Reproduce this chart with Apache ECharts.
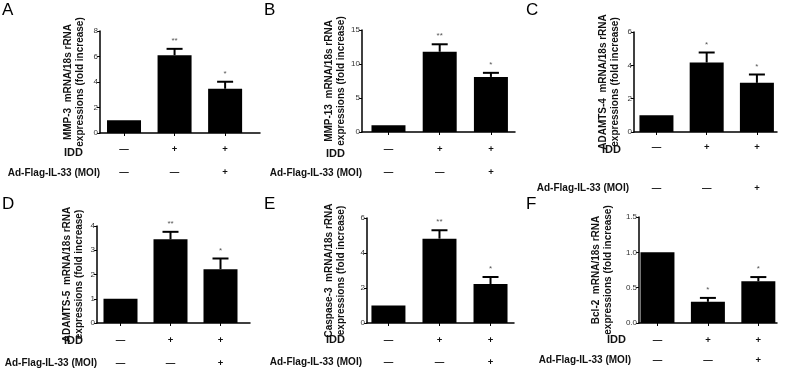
<!DOCTYPE html>
<html>
<head>
<meta charset="utf-8">
<script src="https://cdn.jsdelivr.net/npm/echarts@6/dist/echarts.min.js"></script>
<style>
  html, body { margin: 0; padding: 0; background: #fff; }
  #chart { width: 785px; height: 373px; }
</style>
</head>
<body>
<div id="chart"></div>
<script>
// treatment rows under each panel
const iddSigns = ['—', '+', '+'];
const adFlagSigns = ['—', '—', '+'];

// fold increase (mean) and upper error (SEM) per group
const mmp3Mean = [1, 6.1, 3.47];
const mmp3Err = [0, 0.5, 0.55];
const mmp3Stars = ['', '**', '*'];

const mmp13Mean = [1, 11.8, 8.1];
const mmp13Err = [0, 1.1, 0.6];
const mmp13Stars = ['', '**', '*'];

const adamts4Mean = [1, 4.17, 2.95];
const adamts4Err = [0, 0.6, 0.5];
const adamts4Stars = ['', '*', '*'];

const adamts5Mean = [1, 3.45, 2.22];
const adamts5Err = [0, 0.31, 0.44];
const adamts5Stars = ['', '**', '*'];

const casp3Mean = [1, 4.82, 2.23];
const casp3Err = [0, 0.48, 0.4];
const casp3Stars = ['', '**', '*'];

const bcl2Mean = [1, 0.3, 0.59];
const bcl2Err = [0, 0.055, 0.06];
const bcl2Stars = ['', '*', '*'];

const FONT = '"Liberation Sans", Arial, Helvetica, sans-serif';

// layout of each panel (pixels)
const panels = [
  { letter: 'A', gene: 'MMP-3', mean: mmp3Mean, err: mmp3Err, stars: mmp3Stars,
    grid: [100, 31, 160, 102], xMin: -0.475, xMax: 2.69, yMax: 8, yStep: 2, nameGap: 14,
    rows: [16, 39], letterAt: [2, 2], iddAt: [83, 153], adAt: [100, 173] },
  { letter: 'B', gene: 'MMP-13', mean: mmp13Mean, err: mmp13Err, stars: mmp13Stars,
    grid: [362, 30, 153, 102], xMin: -0.517, xMax: 2.47, yMax: 15, yStep: 5, nameGap: 13,
    rows: [17, 40], letterAt: [264, 2], iddAt: [345, 154], adAt: [362, 173] },
  { letter: 'C', gene: 'ADAMTS-4', mean: adamts4Mean, err: adamts4Err, stars: adamts4Stars,
    grid: [634, 32, 143, 100], xMin: -0.447, xMax: 2.4, yMax: 6, yStep: 2, nameGap: 13,
    rows: [15, 56], letterAt: [526, 2], iddAt: [621, 150], adAt: [629, 188] },
  { letter: 'D', gene: 'ADAMTS-5', mean: adamts5Mean, err: adamts5Err, stars: adamts5Stars,
    grid: [97, 226, 153, 97], xMin: -0.47, xMax: 2.59, yMax: 4, yStep: 1, nameGap: 12,
    rows: [17, 40], letterAt: [2, 196], iddAt: [83, 341], adAt: [97, 363] },
  { letter: 'E', gene: 'Caspase-3', mean: casp3Mean, err: casp3Err, stars: casp3Stars,
    grid: [367, 218, 147, 105], xMin: -0.42, xMax: 2.46, yMax: 6, yStep: 2, nameGap: 20,
    rows: [17, 39], letterAt: [264, 196], iddAt: [345, 340], adAt: [362, 362] },
  { letter: 'F', gene: 'Bcl-2', mean: bcl2Mean, err: bcl2Err, stars: bcl2Stars,
    grid: [639, 217, 138, 106], xMin: -0.366, xMax: 2.37, yMax: 1.5, yStep: 0.5, nameGap: 25,
    rows: [17, 37], letterAt: [526, 196], iddAt: [626, 340], adAt: [631, 360] },
];

const grid = [], xAxis = [], yAxis = [], series = [], graphic = [];

panels.forEach((p, k) => {
  const [left, top, width, height] = p.grid;
  grid.push({ left, top, width, height });

  const m = 6;
  const la = 2 * (p.rows[0] - m);
  const lb = 2 * (p.rows[1] - m - la);
  xAxis.push({
    type: 'value', gridIndex: k, min: p.xMin, max: p.xMax,
    splitLine: { show: false },
    axisLine: { show: true, onZero: false, lineStyle: { color: '#000', width: 1.5 } },
    axisTick: { show: true, length: 3, customValues: [0, 1, 2], lineStyle: { color: '#000', width: 1 } },
    axisLabel: {
      show: true, margin: m, customValues: [0, 1, 2],
      formatter: (v) => `{a|${iddSigns[v]}}\n{b|${adFlagSigns[v]}}`,
      rich: {
        a: { fontFamily: FONT, fontWeight: 'bold', fontSize: 9.5, color: '#111', lineHeight: la },
        b: { fontFamily: FONT, fontWeight: 'bold', fontSize: 9.5, color: '#111', lineHeight: lb },
      },
    },
  });

  yAxis.push({
    type: 'value', gridIndex: k, min: 0, max: p.yMax, interval: p.yStep,
    name: `${p.gene}  mRNA/18s rRNA\nexpressions (fold increase)`,
    nameLocation: 'middle', nameRotate: 90, nameGap: p.nameGap,
    nameTextStyle: { fontFamily: FONT, fontWeight: 'bold', fontSize: 10, color: '#111', lineHeight: 12 },
    splitLine: { show: false },
    axisLine: { show: true, onZero: false, lineStyle: { color: '#000', width: 1.5 } },
    axisTick: { show: true, length: 3, lineStyle: { color: '#000', width: 1 } },
    axisLabel: {
      margin: 2, fontFamily: FONT, fontSize: 8, color: '#333',
      formatter: (v) => (p.yStep < 1 ? v.toFixed(1) : String(v)),
    },
  });

  series.push({
    type: 'bar', xAxisIndex: k, yAxisIndex: k, barWidth: 34,
    itemStyle: { color: '#000' },
    data: p.mean.map((v, i) => [i, v]),
    silent: true,
  });

  series.push({
    type: 'custom', xAxisIndex: k, yAxisIndex: k, silent: true, z: 3,
    data: p.mean.map((v, i) => [i, v, p.err[i]]),
    renderItem: (params, api) => {
      const i = api.value(0), mean = api.value(1), e = api.value(2);
      const base = api.coord([i, mean]);
      const tip = api.coord([i, mean + e]);
      const children = [];
      if (e > 0) {
        children.push({ type: 'line', shape: { x1: tip[0], y1: base[1], x2: tip[0], y2: tip[1] },
          style: { stroke: '#000', lineWidth: 2 } });
        children.push({ type: 'line', shape: { x1: tip[0] - 8, y1: tip[1], x2: tip[0] + 8, y2: tip[1] },
          style: { stroke: '#000', lineWidth: 2 } });
      }
      const star = p.stars[params.dataIndex];
      if (star) {
        children.push({ type: 'text', x: tip[0], y: tip[1] - 4,
          style: { text: star, fill: '#555', font: `8px ${FONT}`, align: 'center', verticalAlign: 'bottom' } });
      }
      return { type: 'group', children };
    },
  });

  graphic.push({ type: 'text', left: p.letterAt[0], top: p.letterAt[1],
    style: { text: p.letter, font: `17px ${FONT}`, fill: '#000' } });
  graphic.push({ type: 'text', x: p.iddAt[0], y: p.iddAt[1],
    style: { text: 'IDD', font: `bold 11px ${FONT}`, fill: '#111', align: 'right', verticalAlign: 'middle' } });
  graphic.push({ type: 'text', x: p.adAt[0], y: p.adAt[1],
    style: { text: 'Ad-Flag-IL-33 (MOI)', font: `bold 10px ${FONT}`, fill: '#111', align: 'right', verticalAlign: 'middle' } });
});

const myChart = echarts.init(document.getElementById('chart'), null, { renderer: 'canvas' });
myChart.setOption({
  backgroundColor: '#fff',
  animation: false,
  grid, xAxis, yAxis, series, graphic,
});
</script>
</body>
</html>
